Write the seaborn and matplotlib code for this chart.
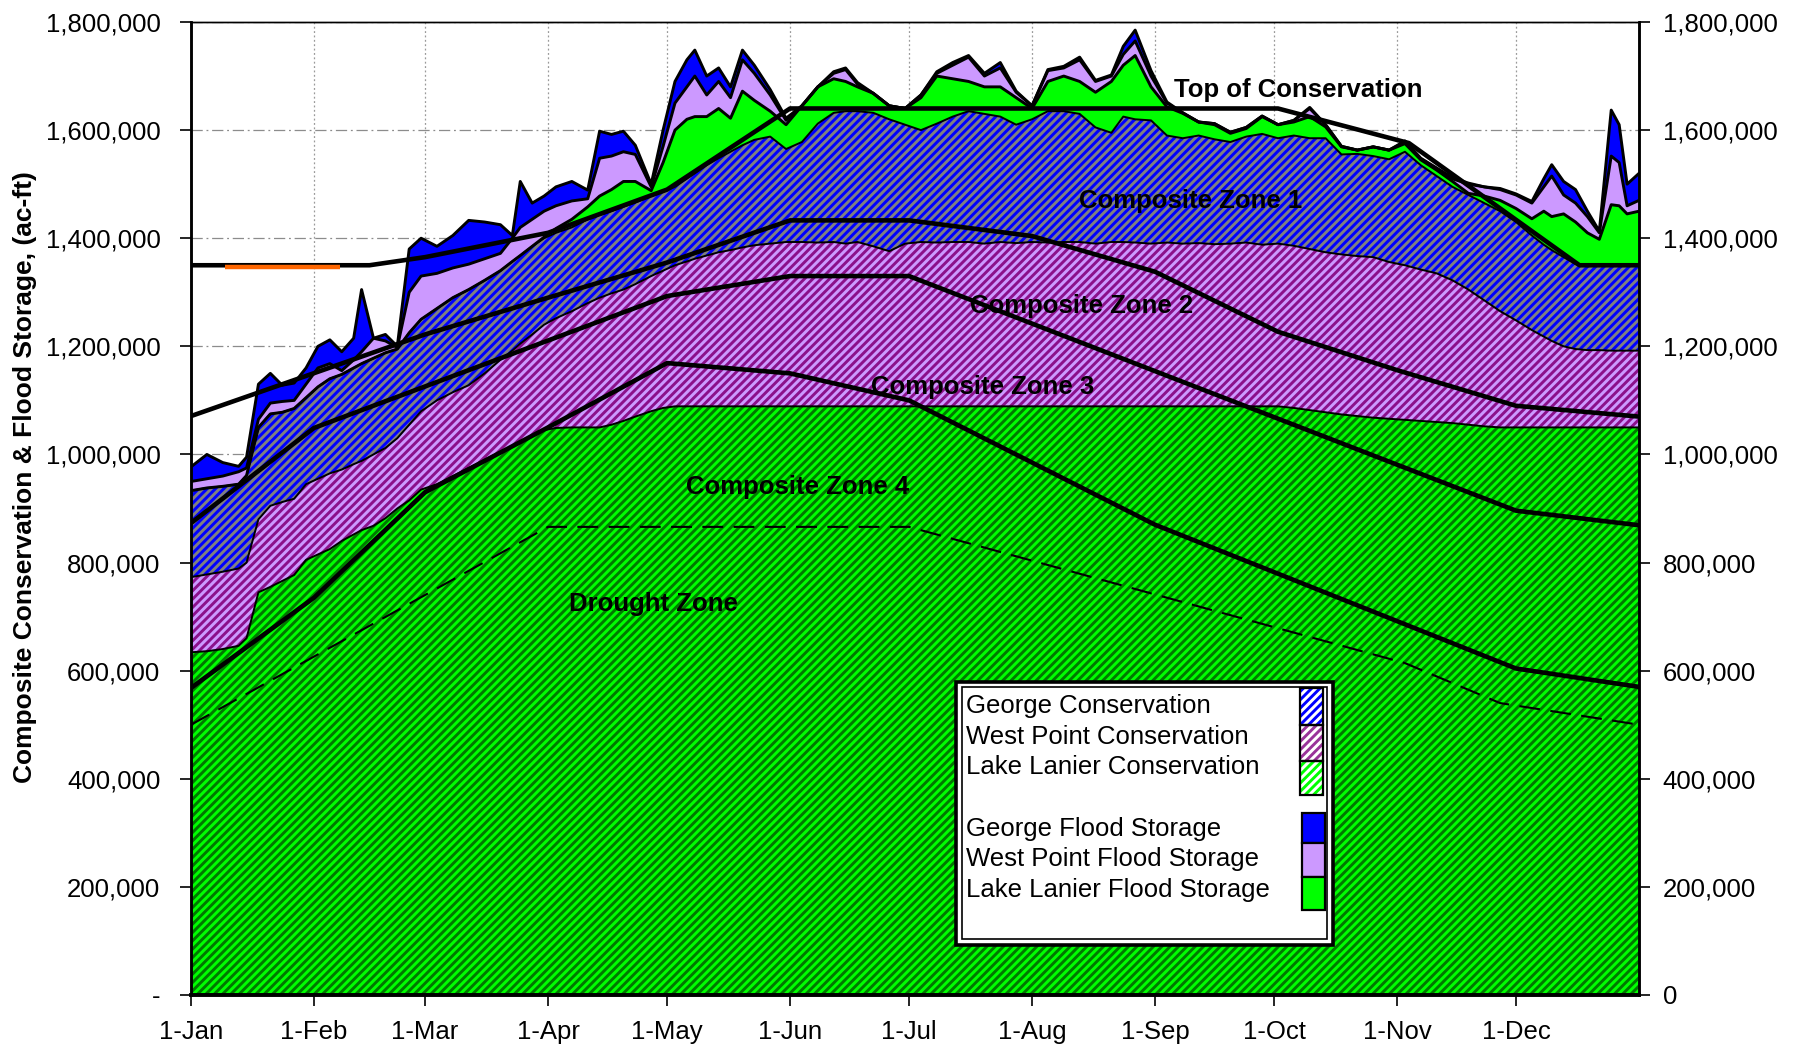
import numpy as np
import pandas as pd
import matplotlib
matplotlib.use("Agg")
import matplotlib.pyplot as plt
import seaborn as sns
from matplotlib.patches import Rectangle
from matplotlib.ticker import FuncFormatter

# ---------------- data (storage in thousand acre-feet) ----------------
KAF = 1000.0

day = [0, 4, 8, 12, 14, 17, 20, 23, 26, 29,
       32, 35, 38, 41, 43, 46, 49, 52, 55, 58,
       62, 66, 70, 74, 78, 81, 83, 86, 89, 92,
       96, 100, 103, 106, 109, 112, 116, 119, 122, 125,
       127, 130, 133, 136, 139, 142, 146, 150, 154, 158,
       162, 165, 168, 172, 176, 180, 184, 188, 192, 196,
       200, 204, 208, 212, 216, 220, 224, 228, 232, 235,
       238, 242, 246, 250, 254, 258, 262, 266, 270, 274,
       278, 282, 286, 290, 294, 298, 302, 306, 310, 314,
       318, 322, 326, 330, 334, 338, 341, 343, 346, 349,
       352, 355, 358, 360, 362, 365]

# cumulative tops of the stacked layers
lanier_cons_top = [634, 636, 640, 646, 660, 745, 755, 766, 777, 805,
                   815, 825, 840, 852, 860, 868, 882, 900, 915, 935,
                   945, 960, 975, 990, 1005, 1015, 1022, 1035, 1045, 1049,
                   1050, 1050, 1050, 1055, 1062, 1070, 1080, 1086, 1089, 1089,
                   1089, 1089, 1089, 1089, 1089, 1089, 1089, 1089, 1089, 1089,
                   1089, 1089, 1089, 1089, 1089, 1089, 1089, 1089, 1089, 1089,
                   1089, 1089, 1089, 1089, 1089, 1089, 1089, 1089, 1089, 1089,
                   1089, 1089, 1089, 1089, 1089, 1089, 1089, 1089, 1089, 1089,
                   1086, 1082, 1078, 1074, 1071, 1068, 1066, 1064, 1062, 1060,
                   1058, 1055, 1052, 1050, 1050, 1050, 1050, 1050, 1050, 1050,
                   1050, 1050, 1050, 1050, 1050, 1050]
westpoint_cons_top = [773, 778, 783, 789, 800, 880, 905, 912, 918, 945,
                      955, 965, 972, 982, 988, 1000, 1012, 1030, 1055, 1080,
                      1100, 1115, 1128, 1150, 1175, 1192, 1205, 1222, 1240, 1252,
                      1265, 1280, 1290, 1298, 1305, 1315, 1330, 1340, 1350, 1357,
                      1362, 1368, 1374, 1378, 1383, 1387, 1390, 1393, 1393, 1392,
                      1393, 1390, 1393, 1385, 1376, 1390, 1393, 1392, 1393, 1393,
                      1390, 1393, 1391, 1393, 1392, 1393, 1393, 1390, 1393, 1393,
                      1392, 1390, 1392, 1390, 1391, 1389, 1390, 1392, 1388, 1390,
                      1386, 1380, 1374, 1370, 1367, 1365, 1356, 1350, 1342, 1335,
                      1322, 1305, 1285, 1265, 1248, 1230, 1218, 1210, 1200, 1195,
                      1193, 1193, 1192, 1192, 1192, 1192]
george_cons_top = [933, 938, 941, 945, 961, 1050, 1075, 1078, 1085, 1105,
                   1125, 1140, 1148, 1160, 1168, 1178, 1188, 1195, 1225, 1250,
                   1270, 1290, 1305, 1322, 1340, 1357, 1368, 1385, 1400, 1410,
                   1420, 1435, 1443, 1450, 1458, 1466, 1478, 1486, 1495, 1510,
                   1520, 1535, 1548, 1560, 1572, 1582, 1588, 1565, 1578, 1612,
                   1632, 1635, 1635, 1632, 1620, 1610, 1600, 1612, 1625, 1635,
                   1630, 1625, 1610, 1620, 1635, 1635, 1630, 1605, 1595, 1625,
                   1620, 1618, 1590, 1585, 1590, 1583, 1578, 1588, 1593, 1585,
                   1590, 1585, 1585, 1555, 1556, 1552, 1546, 1560, 1535, 1515,
                   1495, 1480, 1465, 1450, 1430, 1405, 1388, 1378, 1365, 1352,
                   1348, 1350, 1350, 1350, 1350, 1350]
lanier_flood_top = [933, 938, 941, 945, 961, 1050, 1075, 1078, 1085, 1105,
                    1125, 1140, 1148, 1160, 1168, 1178, 1188, 1195, 1225, 1250,
                    1270, 1290, 1305, 1322, 1340, 1357, 1368, 1385, 1402, 1418,
                    1435, 1458, 1478, 1490, 1505, 1505, 1488, 1540, 1600, 1620,
                    1625, 1625, 1640, 1622, 1672, 1655, 1635, 1610, 1645, 1680,
                    1695, 1690, 1680, 1668, 1645, 1640, 1660, 1700, 1695, 1690,
                    1680, 1680, 1660, 1640, 1690, 1700, 1690, 1670, 1690, 1720,
                    1738, 1680, 1643, 1631, 1615, 1610, 1594, 1603, 1625, 1610,
                    1615, 1625, 1606, 1569, 1563, 1569, 1563, 1575, 1545, 1526,
                    1505, 1483, 1478, 1470, 1455, 1436, 1450, 1440, 1445, 1430,
                    1410, 1398, 1462, 1460, 1445, 1450]
westpoint_flood_top = [950, 955, 960, 968, 975, 1065, 1095, 1098, 1100, 1130,
                       1160, 1168, 1155, 1175, 1190, 1215, 1210, 1198, 1300, 1330,
                       1335, 1345, 1352, 1362, 1372, 1400, 1420, 1435, 1450, 1460,
                       1469, 1473, 1548, 1552, 1560, 1555, 1495, 1570, 1650, 1680,
                       1700, 1665, 1690, 1660, 1730, 1705, 1665, 1618, 1645, 1680,
                       1705, 1712, 1685, 1668, 1645, 1640, 1665, 1705, 1720, 1735,
                       1700, 1715, 1670, 1645, 1710, 1715, 1730, 1690, 1700, 1740,
                       1765, 1700, 1650, 1632, 1615, 1612, 1596, 1605, 1626, 1610,
                       1618, 1640, 1610, 1570, 1563, 1569, 1563, 1578, 1547, 1528,
                       1510, 1500, 1495, 1490, 1480, 1465, 1495, 1515, 1480, 1465,
                       1440, 1410, 1552, 1540, 1460, 1470]
george_flood_top = [977, 1000, 985, 978, 995, 1130, 1150, 1128, 1132, 1160,
                    1200, 1212, 1190, 1215, 1305, 1215, 1222, 1200, 1380, 1400,
                    1385, 1405, 1433, 1430, 1425, 1405, 1505, 1465, 1478, 1495,
                    1505, 1489, 1598, 1592, 1598, 1572, 1500, 1600, 1690, 1730,
                    1748, 1700, 1715, 1680, 1748, 1720, 1675, 1622, 1645, 1680,
                    1708, 1715, 1688, 1668, 1645, 1640, 1665, 1708, 1725, 1738,
                    1705, 1725, 1672, 1645, 1712, 1718, 1735, 1692, 1702, 1755,
                    1785, 1710, 1652, 1632, 1615, 1612, 1596, 1605, 1626, 1610,
                    1618, 1642, 1610, 1570, 1563, 1569, 1563, 1580, 1548, 1530,
                    1512, 1502, 1495, 1492, 1482, 1468, 1510, 1536, 1505, 1490,
                    1450, 1413, 1637, 1610, 1500, 1520]

# rule curves
top_cons_day = [0, 45, 59, 90, 120, 151, 274, 307, 350, 365]
top_cons_val = [1350, 1350, 1365, 1410, 1490, 1640, 1640, 1576, 1350, 1350]
zone1_day = [0, 59, 90, 120, 151, 181, 212, 243, 274, 304, 334, 365]
zone1_val = [1071, 1222, 1290, 1355, 1433, 1433, 1404, 1338, 1227, 1156, 1090, 1070]
zone2_day = [0, 31, 120, 151, 181, 334, 365]
zone2_val = [873, 1049, 1293, 1330, 1330, 896, 869]
zone3_day = [0, 31, 59, 90, 120, 151, 181, 243, 334, 365]
zone3_val = [568, 735, 930, 1050, 1169, 1150, 1100, 870, 604, 570]
drought_day = [0, 90, 181, 306, 330, 365]
drought_val = [500, 866, 866, 614, 540, 500]
orange_day = [8.5, 37.5]
orange_val = [1347, 1347]

month_day = [0, 31, 59, 90, 120, 151, 181, 212, 243, 273, 304, 334]
month_label = ["1-Jan", "1-Feb", "1-Mar", "1-Apr", "1-May", "1-Jun",
               "1-Jul", "1-Aug", "1-Sep", "1-Oct", "1-Nov", "1-Dec"]

zone_text = ["Top of Conservation", "Composite Zone 1", "Composite Zone 2",
             "Composite Zone 3", "Composite Zone 4", "Drought Zone"]
zone_text_day = [279, 252, 224.5, 199.5, 153, 116.5]
zone_text_val = [1675, 1469, 1274, 1124, 939, 723]

legend_labels = ["George Conservation", "West Point Conservation",
                 "Lake Lanier Conservation", "George Flood Storage",
                 "West Point Flood Storage", "Lake Lanier Flood Storage"]

# ---------------- style ----------------
sns.set_style("white")
plt.rcParams["font.family"] = ["Liberation Sans", "DejaVu Sans"]
plt.rcParams["hatch.linewidth"] = 2.1
plt.rcParams["text.color"] = "black"
plt.rcParams["axes.labelcolor"] = "black"
plt.rcParams["xtick.color"] = "black"
plt.rcParams["ytick.color"] = "black"

GREEN, GREEN_D = "#00FF00", "#007800"
LAV, PURP = "#CC99FF", "#8B108B"
BLUE, GRAY = "#0000FF", "#808080"

W, H = 1796, 1046
fig = plt.figure(figsize=(W / 100, H / 100), dpi=100)
AX_L, AX_R, AX_T, AX_B = 191, 1639, 22, 995
ax = fig.add_axes([AX_L / W, 1 - AX_B / H, (AX_R - AX_L) / W, (AX_B - AX_T) / H])
ax.set_xlim(0, 365)
ax.set_ylim(0, 1.8e6)
ax.set_axisbelow(True)

x = np.array(day, dtype=float)
tops = [np.array(s, dtype=float) * KAF for s in
        (lanier_cons_top, westpoint_cons_top, george_cons_top,
         lanier_flood_top, westpoint_flood_top, george_flood_top)]
bottoms = [np.zeros_like(x)] + tops[:-1]
layer_style = [
    dict(facecolor=GREEN, edgecolor=GREEN_D, hatch="////"),
    dict(facecolor=LAV, edgecolor=PURP, hatch="////"),
    dict(facecolor=BLUE, edgecolor=GRAY, hatch="////"),
    dict(facecolor=GREEN, edgecolor="none"),
    dict(facecolor=LAV, edgecolor="none"),
    dict(facecolor=BLUE, edgecolor="none"),
]
for b, t, st in zip(bottoms, tops, layer_style):
    ax.fill_between(x, b, t, linewidth=0, zorder=1, **st)
for i, t in enumerate(tops):
    ax.plot(x, t, color="black", lw=1.4 if i < 3 else 2.1, zorder=2,
            solid_joinstyle="round")

# rule curves with seaborn
rules = [(top_cons_day, top_cons_val), (zone1_day, zone1_val),
         (zone2_day, zone2_val), (zone3_day, zone3_val)]
for d, v in rules:
    sns.lineplot(x=d, y=np.array(v) * KAF, ax=ax, color="black", lw=3.3,
                 zorder=4, estimator=None, sort=False)
sns.lineplot(x=drought_day, y=np.array(drought_val) * KAF, ax=ax, color="black",
             lw=1.5, ls=(0, (10, 5)), zorder=4, estimator=None, sort=False)
ax.plot(orange_day, np.array(orange_val) * KAF, color="#FF6600", lw=3.2,
        zorder=5, solid_capstyle="butt")

for s, dx, vy in zip(zone_text, zone_text_day, zone_text_val):
    ax.text(dx, vy * KAF, s, ha="center", va="center", fontsize=18.5,
            fontweight="bold", color="black", zorder=6)

# grid, ticks
yt = np.arange(0, 1.8e6 + 1, 2e5)
ax.set_xticks(month_day)
ax.set_xticklabels(month_label)
ax.set_yticks(yt)
ax.yaxis.set_major_formatter(FuncFormatter(lambda v, p: "-" if v == 0 else f"{int(v):,}"))
ax.grid(axis="y", color="#8c8c8c", lw=0.9, ls=(0, (9, 3, 1.5, 3)))
ax.grid(axis="x", color="#9a9a9a", lw=0.9, ls=(0, (1.5, 2)))
ax.tick_params(axis="x", length=8, width=1.2, direction="out", pad=10,
               labelsize=18.5, colors="black", bottom=True)
ax.tick_params(axis="y", length=8, width=1.2, direction="out", pad=14,
               labelsize=18.5, colors="black", left=True)
ax.set_ylabel("Composite Conservation & Flood Storage, (ac-ft)", fontsize=19,
              fontweight="bold", color="black")
ax.yaxis.set_label_coords(-0.1064, 0.532)

ax2 = ax.twinx()
ax2.set_ylim(0, 1.8e6)
ax2.set_yticks(yt)
ax2.yaxis.set_major_formatter(FuncFormatter(lambda v, p: f"{int(v):,}"))
ax2.tick_params(axis="y", length=8, width=1.2, direction="out", pad=9,
                labelsize=18.5, colors="black", right=True)
ax2.grid(False)
for a in (ax, ax2):
    for name, sp in a.spines.items():
        sp.set_color("black")
        sp.set_linewidth({"bottom": 2.6, "top": 1.0}.get(name, 1.8))
        sp.set_zorder(7)

# ---------------- legend (drawn box) ----------------
def px(xp, yp):
    return ((xp - AX_L) / (AX_R - AX_L), (AX_B - yp) / (AX_B - AX_T))

def rect_px(x0, y0, x1, y1, **kw):
    a, b = px(x0, y1)
    c, d = px(x1, y0)
    r = Rectangle((a, b), c - a, d - b, transform=ax.transAxes, **kw)
    ax.add_patch(r)
    return r

rect_px(956, 682, 1333, 945, facecolor="white", edgecolor="black", lw=2.6, zorder=10)
rect_px(962, 687, 1327, 939, facecolor="none", edgecolor="black", lw=1.2, zorder=11)

text_base = [713, 744, 774, 836, 866, 897]
for lab, yb in zip(legend_labels, text_base):
    tx, ty = px(966, yb)
    ax.text(tx, ty, lab, transform=ax.transAxes, ha="left", va="baseline",
            fontsize=18.5, color="black", zorder=12)

hatch_cols = [BLUE, "#993399", GREEN]
hatch_rows = [(688, 725), (725, 761), (761, 795)]
for c, (y0, y1) in zip(hatch_cols, hatch_rows):
    rect_px(1300, y0, 1323, y1, facecolor="white", edgecolor=c, hatch="////", lw=0, zorder=12)
    rect_px(1300, y0, 1323, y1, facecolor="none", edgecolor="black", lw=1.6, zorder=13)
solid_cols = [BLUE, LAV, GREEN]
solid_rows = [(813, 843), (843, 877), (877, 910)]
for c, (y0, y1) in zip(solid_cols, solid_rows):
    rect_px(1302, y0, 1325, y1, facecolor=c, edgecolor="black", lw=1.6, zorder=12)

fig.savefig("out.png", dpi=100)
